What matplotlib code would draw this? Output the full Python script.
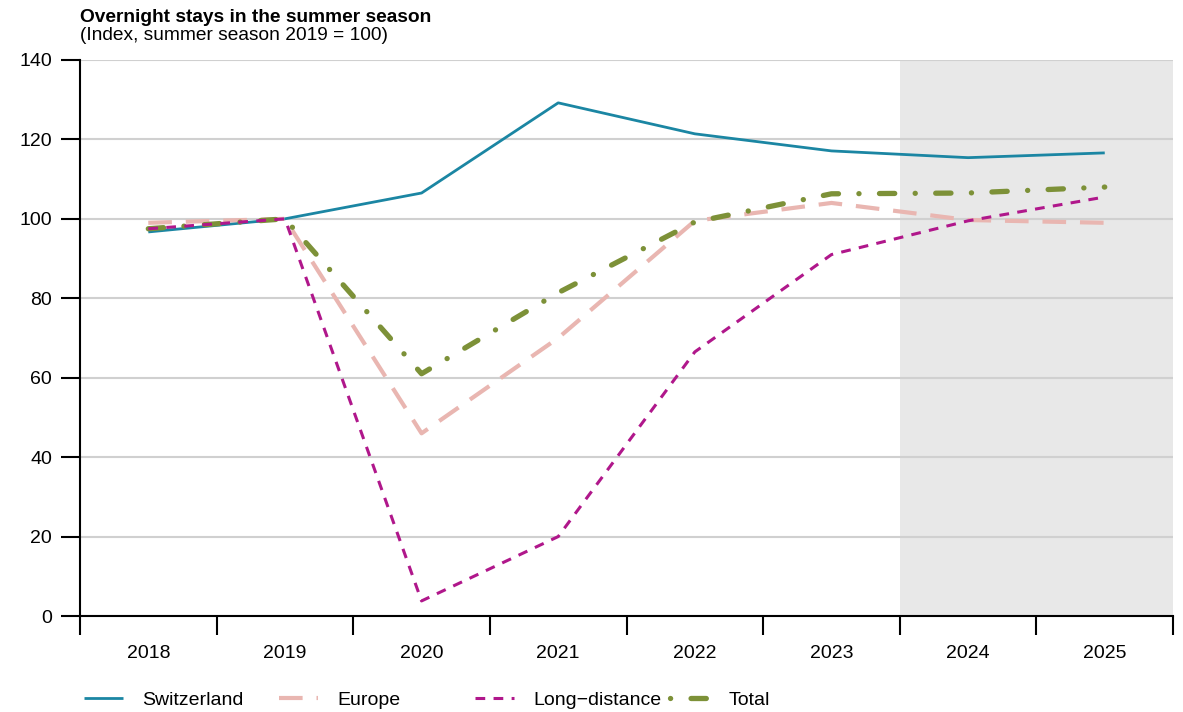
import numpy as np
import matplotlib
matplotlib.use("Agg")
from matplotlib import pyplot as plt
from matplotlib.lines import Line2D

plt.rcParams["font.family"] = ["Liberation Sans", "DejaVu Sans"]
plt.rcParams["lines.scale_dashes"] = False

years = ["2018", "2019", "2020", "2021", "2022", "2023", "2024", "2025"]
switzerland = [96.7, 100, 106.5, 129.2, 121.4, 117.1, 115.4, 116.6]
europe = [99, 100, 46, 70, 99.5, 104, 99.7, 99]
long_distance = [97.5, 100, 3.8, 20, 66.5, 91, 99.5, 105.5]
total = [97.5, 100, 61, 81.4, 99.2, 106.3, 106.5, 108]
forecast_start = "2024"

fig = plt.figure(figsize=(11.83, 7.12), dpi=100)
ax = fig.add_axes([0.0676, 0.1348, 0.924, 0.781])

x = np.arange(len(years))
fs = years.index(forecast_start)
ax.axvspan(fs - 0.5, len(years) - 0.5, color="#e8e8e8", zorder=0, lw=0)

styles = {
    "Switzerland": dict(color="#1b86a3", lw=2, solid_capstyle="butt"),
    "Europe": dict(color="#e9b6b1", lw=3, linestyle=(0, (17, 10)), dash_capstyle="butt"),
    "Long\u2212distance": dict(color="#b0178b", lw=2.2, linestyle=(0, (7, 6)), dash_capstyle="butt"),
    "Total": dict(color="#7d9138", lw=3.8, linestyle=(0, (11, 14.7, 0.1, 14.7)), dash_capstyle="round"),
}
series = {
    "Switzerland": switzerland,
    "Europe": europe,
    "Long\u2212distance": long_distance,
    "Total": total,
}
zs = {"Switzerland": 3, "Europe": 3, "Long\u2212distance": 4, "Total": 3}
for name, vals in series.items():
    ax.plot(x, vals, zorder=zs[name], **styles[name])

ax.set_xlim(-0.5, len(years) - 0.5)
ax.set_ylim(0, 140)
ax.set_yticks(np.arange(0, 141, 20))
ax.yaxis.grid(True, color="#d0d0d0", lw=1.5, zorder=1)
ax.set_axisbelow(True)

# ticks between categories, labels in the middle
ax.set_xticks(np.arange(-0.5, len(years)), minor=False)
ax.set_xticklabels([])
ax.set_xticks(x, minor=True)
ax.set_xticklabels(years, minor=True)
ax.tick_params(axis="x", which="major", length=14, width=1.5, direction="out")
ax.tick_params(axis="x", which="minor", length=0, pad=21, labelsize=14)
ax.tick_params(axis="y", length=14, width=1.5, direction="out", pad=6, labelsize=14)

for s in ["top", "right"]:
    ax.spines[s].set_visible(False)
for s in ["left", "bottom"]:
    ax.spines[s].set_linewidth(1.5)

fig.text(0.0676, 1 - 22 / 712, "Overnight stays in the summer season", fontsize=13.8, fontweight="bold", va="baseline")
fig.text(0.0676, 1 - 40 / 712, "(Index, summer season 2019 = 100)", fontsize=13.8, va="baseline")

# legend entries at fixed positions along the bottom
leg_x = [84, 279, 475, 670]
for lx, name in zip(leg_x, series):
    st = dict(styles[name])
    if name == "Total":
        st["linestyle"] = (25.7, (11, 14.7, 0.1, 14.7))
    h = Line2D([], [], **st)
    fig.legend([h], [name], loc="center left", bbox_to_anchor=(lx / 1183, 1 - 700 / 712),
               frameon=False, fontsize=14, handlelength=2.0, handletextpad=1.0,
               borderpad=0, borderaxespad=0)

fig.savefig("out.png", dpi=100)
